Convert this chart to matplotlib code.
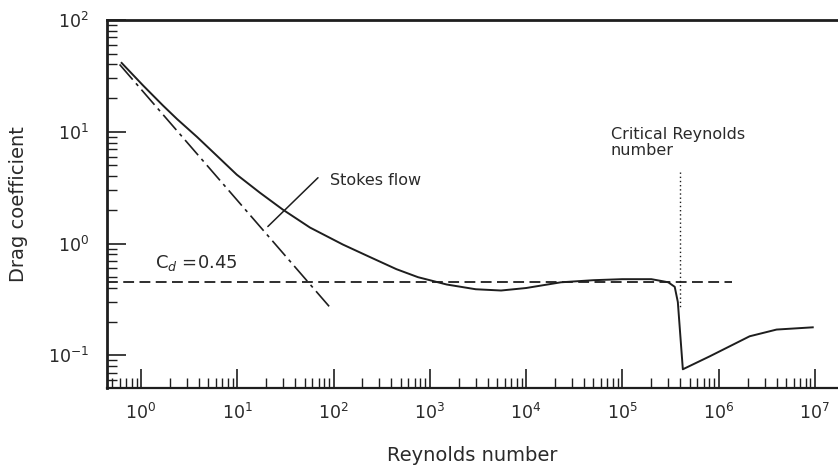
import matplotlib
matplotlib.use("Agg")
import matplotlib.pyplot as plt
from matplotlib.ticker import LogLocator, FixedLocator, NullFormatter

plt.rcParams['font.family'] = ['DejaVu Sans']
plt.rcParams['mathtext.fontset'] = 'dejavusans'

# Measured drag curve
re_curve = [0.63, 1.05, 1.69, 2.37, 3.82, 6.15, 9.9, 17.2, 29.8, 57, 125, 229, 450, 755,
            1500, 3000, 5500, 10000, 23000, 50000, 100000, 200000, 263000, 300000,
            350000, 377000, 425000, 810000, 2.1e6, 4.0e6, 9.5e6]
cd_curve = [41.3, 26.0, 17.2, 13.0, 9.0, 6.1, 4.13, 2.85, 2.01, 1.39, 0.98, 0.77, 0.59, 0.50,
            0.43, 0.39, 0.38, 0.40, 0.45, 0.47, 0.48, 0.48, 0.46, 0.45,
            0.41, 0.30, 0.075, 0.098, 0.148, 0.17, 0.178]

# Stokes flow line
re_stokes = [0.6, 95]
cd_stokes = [40, 0.26]

# Constant Cd line
re_const = [0.44, 1.37e6]
cd_const = [0.45, 0.45]

# Critical Reynolds number marker
re_crit = [3.96e5, 3.96e5]
cd_crit = [4.4, 0.27]

xtick_vals = [1e0, 1e1, 1e2, 1e3, 1e4, 1e5, 1e6, 1e7]
xtick_labels = [r'$10^{0}$', r'$10^{1}$', r'$10^{2}$', r'$10^{3}$', r'$10^{4}$',
                r'$10^{5}$', r'$10^{6}$', r'$10^{7}$']
ytick_vals = [1e-1, 1e0, 1e1, 1e2]
ytick_labels = [r'$10^{-1}$', r'$10^{0}$', r'$10^{1}$', r'$10^{2}$']

ink = '#1e1e1e'
txt = '#2a2a2a'

fig = plt.figure(figsize=(8.38, 4.73), dpi=100)
ax = fig.add_axes([107/838, 1 - 388/473, 1 - 107/838, (388 - 20)/473])
ax.set_xscale('log')
ax.set_yscale('log')
ax.set_xlim(0.444, 10**7.24)
ax.set_ylim(0.051, 100)

ax.plot(re_curve, cd_curve, color=ink, lw=1.4, solid_joinstyle='round')
ax.plot(re_stokes, cd_stokes, color=ink, lw=1.2, linestyle=(0, (12, 3, 2, 3)))
ax.plot(re_const, cd_const, color=ink, lw=1.3, linestyle=(0, (6, 3)))
ax.plot(re_crit, cd_crit, color=ink, lw=1.0, linestyle=(0, (1, 2)))

ax.annotate('', xy=(20.8, 1.42), xytext=(69, 3.88),
            arrowprops=dict(arrowstyle='-', color=ink, lw=1.1, shrinkA=0, shrinkB=0))
ax.text(92, 3.65, 'Stokes flow', fontsize=11.5, color=txt, va='center', ha='left')
ax.text(1.4, 0.676, r'C$_d$ =0.45', fontsize=13, color=txt, va='center', ha='left')
ax.text(7.6e4, 11.1, 'Critical Reynolds\nnumber', fontsize=11.5, color=txt,
        va='top', ha='left', linespacing=1.1)

ax.xaxis.set_major_locator(FixedLocator(xtick_vals))
ax.set_xticklabels(xtick_labels)
ax.xaxis.set_minor_locator(LogLocator(base=10, subs=[2, 3, 4, 5, 6, 7, 8, 9], numticks=20))
ax.xaxis.set_minor_formatter(NullFormatter())
ax.yaxis.set_major_locator(FixedLocator(ytick_vals))
ax.set_yticklabels(ytick_labels)
ax.yaxis.set_minor_locator(LogLocator(base=10, subs=[2, 3, 4, 5, 6, 7, 8, 9], numticks=20))
ax.yaxis.set_minor_formatter(NullFormatter())

ax.tick_params(which='major', direction='in', length=14, width=1.2, colors=ink,
               labelsize=12.5, labelcolor=txt)
ax.tick_params(which='minor', direction='in', length=7, width=1.0, colors=ink)
ax.tick_params(axis='x', which='major', pad=11)
ax.tick_params(axis='y', which='major', pad=13)

ax.spines['right'].set_visible(False)
ax.spines['top'].set_linewidth(2.0)
ax.spines['left'].set_linewidth(2.0)
ax.spines['bottom'].set_linewidth(1.6)
for s in ['top', 'left', 'bottom']:
    ax.spines[s].set_color(ink)

ax.set_xlabel('Reynolds number', fontsize=14, color=txt, labelpad=16)
ax.set_ylabel('Drag coefficient', fontsize=14, color=txt, labelpad=14)

fig.savefig('out.png', dpi=100)
